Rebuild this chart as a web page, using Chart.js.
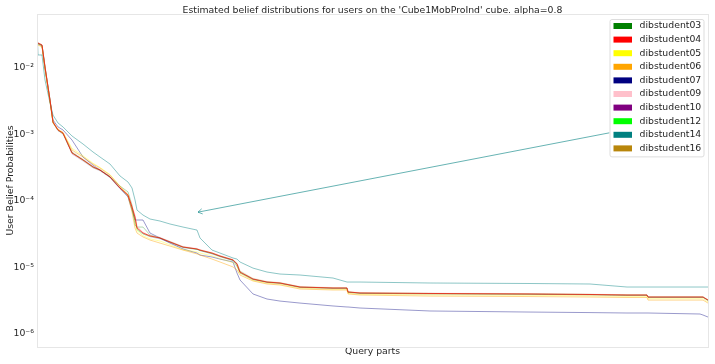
<!DOCTYPE html>
<html>
<head>
<meta charset="utf-8">
<script src="https://cdn.jsdelivr.net/npm/chart.js@4.4.1/dist/chart.umd.min.js"></script>
<style>
  html, body { margin: 0; padding: 0; background: #fff; }
  #beliefChart { display: block; }
</style>
</head>
<body>
<canvas id="beliefChart" width="715" height="364"></canvas>
<script>
// query part rank (x) shared by every user
const queryParts = [0, 1, 5, 8, 13, 16, 21, 26, 35, 46, 56, 63, 73, 83, 91, 95, 98, 100, 106, 113,
  123, 133, 146, 160, 163, 175, 183, 196, 200, 203, 216, 230, 243, 263, 296, 310, 311, 323, 393, 493,
  553, 590, 610, 611, 663, 666, 671];

const students = ['dibstudent03', 'dibstudent04', 'dibstudent05', 'dibstudent06', 'dibstudent07',
  'dibstudent09', 'dibstudent10', 'dibstudent12', 'dibstudent14', 'dibstudent16'];

const dib03 = [0.0235, 0.0235, 0.0220, 0.0102, 3.2e-3, 1.50e-3, 1.15e-3, 1.02e-3, 5.4e-4, 4.2e-4,
  3.3e-4, 2.95e-4, 2.35e-4, 1.68e-4, 1.37e-4, 8.7e-5, 4.36e-5, 4.06e-5, 4.06e-5, 3.08e-5,
  2.8e-5, 2.45e-5, 2.05e-5, 1.88e-5, 1.80e-5, 1.62e-5, 1.47e-5, 1.28e-5, 1.05e-5, 8.3e-6,
  6.6e-6, 6.0e-6, 5.8e-6, 5.05e-6, 4.88e-6, 4.88e-6, 4.25e-6, 4.10e-6, 4.03e-6, 3.97e-6,
  3.90e-6, 3.83e-6, 3.83e-6, 3.57e-6, 3.57e-6, 3.57e-6, 3.2e-6];
const dib04 = [0.0238, 0.0238, 0.0222, 0.0104, 3.30e-3, 1.54e-3, 1.17e-3, 1.05e-3, 5.27e-4, 4.14e-4,
  3.25e-4, 2.92e-4, 2.30e-4, 1.57e-4, 1.23e-4, 8.12e-5, 5.74e-5, 3.93e-5, 3.30e-5, 2.98e-5,
  2.78e-5, 2.42e-5, 2.03e-5, 1.90e-5, 1.83e-5, 1.65e-5, 1.49e-5, 1.30e-5, 1.13e-5, 8.55e-6,
  6.71e-6, 6.05e-6, 5.85e-6, 5.09e-6, 4.92e-6, 4.92e-6, 4.29e-6, 4.14e-6, 4.07e-6, 4.00e-6,
  3.93e-6, 3.86e-6, 3.86e-6, 3.60e-6, 3.60e-6, 3.60e-6, 3.24e-6];
const dib05 = [0.0226, 0.0226, 0.0212, 9.8e-3, 3.2e-3, 1.52e-3, 1.20e-3, 1.08e-3, 6.2e-4, 4.8e-4,
  3.7e-4, 3.2e-4, 2.5e-4, 1.65e-4, 1.25e-4, 8.0e-5, 5.0e-5, 3.6e-5, 3.0e-5, 2.7e-5,
  2.5e-5, 2.2e-5, 1.85e-5, 1.72e-5, 1.65e-5, 1.50e-5, 1.36e-5, 1.18e-5, 1.05e-5, 8.2e-6,
  6.4e-6, 5.8e-6, 5.6e-6, 4.9e-6, 4.7e-6, 4.7e-6, 4.1e-6, 3.95e-6, 3.88e-6, 3.82e-6,
  3.75e-6, 3.68e-6, 3.68e-6, 3.40e-6, 3.40e-6, 3.40e-6, 3.05e-6];
const dib06 = [0.0222, 0.0222, 0.0207, 9.33e-3, 3.08e-3, 1.49e-3, 1.17e-3, 1.05e-3, 5.85e-4, 4.59e-4,
  3.60e-4, 3.13e-4, 2.46e-4, 1.68e-4, 1.19e-4, 6.84e-5, 3.93e-5, 3.30e-5, 2.88e-5, 2.59e-5,
  2.33e-5, 2.10e-5, 1.83e-5, 1.60e-5, 1.54e-5, 1.34e-5, 1.21e-5, 1.02e-5, 9.17e-6, 7.71e-6,
  6.27e-6, 5.65e-6, 5.46e-6, 4.75e-6, 4.59e-6, 4.59e-6, 4.00e-6, 3.86e-6, 3.72e-6, 3.66e-6,
  3.60e-6, 3.54e-6, 3.54e-6, 3.24e-6, 3.24e-6, 3.24e-6, 2.92e-6];
const dib07 = [0.0230, 0.0230, 0.0214, 0.0100, 3.30e-3, 1.65e-3, 1.30e-3, 1.17e-3, 8.26e-4, 4.59e-4,
  3.47e-4, 2.92e-4, 2.30e-4, 1.57e-4, 1.15e-4, 7.3e-5, 5.18e-5, 5.18e-5, 5.18e-5, 3.30e-5,
  2.78e-5, 2.33e-5, 1.90e-5, 1.65e-5, 1.54e-5, 1.44e-5, 1.34e-5, 1.21e-5, 8.26e-6, 6.49e-6,
  4.00e-6, 3.36e-6, 3.13e-6, 2.92e-6, 2.64e-6, 2.55e-6, 2.55e-6, 2.46e-6, 2.22e-6, 2.14e-6,
  2.10e-6, 2.07e-6, 2.07e-6, 2.07e-6, 2.00e-6, 1.93e-6, 1.80e-6];
const dib09 = [0.0240, 0.0240, 0.0225, 0.0108, 3.4e-3, 1.58e-3, 1.22e-3, 1.10e-3, 5.6e-4, 4.3e-4,
  3.4e-4, 3.0e-4, 2.4e-4, 1.62e-4, 1.27e-4, 8.5e-5, 6.2e-5, 4.2e-5, 3.4e-5, 3.05e-5,
  2.85e-5, 2.48e-5, 2.08e-5, 1.94e-5, 1.86e-5, 1.68e-5, 1.52e-5, 1.33e-5, 1.18e-5, 9.0e-6,
  6.9e-6, 6.2e-6, 5.95e-6, 5.2e-6, 5.0e-6, 5.0e-6, 4.35e-6, 4.2e-6, 4.12e-6, 4.05e-6,
  3.98e-6, 3.9e-6, 3.9e-6, 3.65e-6, 3.65e-6, 3.65e-6, 3.3e-6];
const dib10 = [0.0232, 0.0232, 0.0218, 0.0100, 3.25e-3, 1.52e-3, 1.14e-3, 1.03e-3, 5.1e-4, 4.0e-4,
  3.15e-4, 2.85e-4, 2.25e-4, 1.52e-4, 1.18e-4, 7.8e-5, 5.5e-5, 3.8e-5, 3.2e-5, 2.9e-5,
  2.7e-5, 2.38e-5, 2.0e-5, 1.87e-5, 1.80e-5, 1.60e-5, 1.45e-5, 1.27e-5, 1.10e-5, 8.4e-6,
  6.6e-6, 5.95e-6, 5.75e-6, 5.0e-6, 4.85e-6, 4.85e-6, 4.22e-6, 4.08e-6, 4.01e-6, 3.95e-6,
  3.88e-6, 3.8e-6, 3.8e-6, 3.55e-6, 3.55e-6, 3.55e-6, 3.2e-6];
const dib12 = [0.0236, 0.0236, 0.0221, 0.0103, 3.3e-3, 1.55e-3, 1.18e-3, 1.06e-3, 5.3e-4, 4.1e-4,
  3.2e-4, 2.9e-4, 2.28e-4, 1.55e-4, 1.2e-4, 7.6e-5, 5.2e-5, 3.7e-5, 3.2e-5, 2.95e-5,
  2.75e-5, 2.4e-5, 2.0e-5, 1.88e-5, 1.82e-5, 1.64e-5, 1.48e-5, 1.29e-5, 1.15e-5, 8.8e-6,
  6.8e-6, 6.1e-6, 5.9e-6, 5.12e-6, 4.95e-6, 4.95e-6, 4.3e-6, 4.15e-6, 4.08e-6, 4.01e-6,
  3.94e-6, 3.87e-6, 3.87e-6, 3.62e-6, 3.62e-6, 3.62e-6, 3.26e-6];
const dib14 = [0.0400, 0.0157, 0.0157, 6.6e-3, 2.98e-3, 1.96e-3, 1.49e-3, 1.30e-3, 9.5e-4, 7.2e-4,
  5.46e-4, 4.59e-4, 3.60e-4, 2.38e-4, 1.93e-4, 1.57e-4, 1.04e-4, 7.3e-5, 6.15e-5, 5.36e-5,
  5.0e-5, 4.51e-5, 4.06e-5, 3.66e-5, 2.78e-5, 1.83e-5, 1.65e-5, 1.39e-5, 1.34e-5, 1.21e-5,
  9.8e-6, 8.55e-6, 7.98e-6, 7.71e-6, 6.95e-6, 6.05e-6, 6.05e-6, 6.05e-6, 5.85e-6, 5.75e-6,
  5.65e-6, 5.09e-6, 5.09e-6, 5.09e-6, 5.09e-6, 5.09e-6, 5.09e-6];
const dib16 = [0.0237, 0.0237, 0.0223, 0.0105, 3.35e-3, 1.56e-3, 1.19e-3, 1.07e-3, 5.35e-4, 4.18e-4,
  3.28e-4, 2.95e-4, 2.33e-4, 1.6e-4, 1.26e-4, 8.4e-5, 6.0e-5, 4.1e-5, 3.35e-5, 3.0e-5,
  2.8e-5, 2.44e-5, 2.05e-5, 1.91e-5, 1.84e-5, 1.66e-5, 1.5e-5, 1.31e-5, 1.16e-5, 8.6e-6,
  6.75e-6, 6.08e-6, 5.88e-6, 5.1e-6, 4.93e-6, 4.93e-6, 4.3e-6, 4.15e-6, 4.08e-6, 4.01e-6,
  3.94e-6, 3.87e-6, 3.87e-6, 3.61e-6, 3.61e-6, 3.61e-6, 3.25e-6];

const seriesValues = [dib03, dib04, dib05, dib06, dib07, dib09, dib10, dib12, dib14, dib16];

const yTickValues = [1e-6, 1e-5, 1e-4, 1e-3, 1e-2];
const yTickLabels = ['10\u207b\u2076', '10\u207b\u2075', '10\u207b\u2074', '10\u207b\u00b3', '10\u207b\u00b2'];

// annotation arrow: from the dibstudent14 legend entry to this point
const arrowUser = 8;
const arrowTarget = { part: 161, prob: 6.8e-5 };

// colours (legend full, lines faded)
const userColors = [[0, 128, 0], [255, 0, 0], [255, 255, 0], [255, 165, 0], [0, 0, 128],
  [255, 192, 203], [128, 0, 128], [0, 255, 0], [0, 128, 128], [184, 134, 11]];
const lineAlpha = [0.3, 0.7, 0.35, 0.45, 0.4, 0.4, 0.22, 0.3, 0.45, 0.22];
const drawOrder = [2, 0, 2, 1, 2, 1, 3, 2, 1, 3];
const rgba = (c, a) => 'rgba(' + c[0] + ',' + c[1] + ',' + c[2] + ',' + a + ')';

const FONT = '"DejaVu Sans", sans-serif';
const TEXT = '#262626';

const datasets = students.map((name, i) => ({
  label: name,
  data: queryParts.map((p, j) => ({ x: p, y: seriesValues[i][j] })),
  borderColor: rgba(userColors[i], lineAlpha[i]),
  borderWidth: 1,
  pointRadius: 0,
  tension: 0,
  fill: false,
  order: drawOrder[i]
}));

const overlay = {
  id: 'overlay',
  afterDraw(chart) {
    const { ctx, chartArea: a, scales } = chart;
    ctx.save();
    // frame
    ctx.strokeStyle = '#e6e6e6';
    ctx.lineWidth = 1;
    ctx.strokeRect(a.left + 0.5, a.top + 0.5, a.right - a.left, a.bottom - a.top);

    // legend
    const boxW = 94, rowH = 13.6;
    const boxL = a.right - 98.5, boxT = a.top + 5;
    const boxH = 7 + (students.length - 1) * rowH + 8;
    const rowY = i => boxT + 7 + i * rowH;

    // arrow
    const x0 = boxL, y0 = rowY(arrowUser) - 2;
    const x1 = scales.x.getPixelForValue(arrowTarget.part);
    const y1 = scales.y.getPixelForValue(arrowTarget.prob);
    const ang = Math.atan2(y0 - y1, x0 - x1);
    ctx.strokeStyle = rgba(userColors[arrowUser], 0.6);
    ctx.lineWidth = 1;
    ctx.beginPath();
    ctx.moveTo(x0, y0);
    ctx.lineTo(x1, y1);
    ctx.moveTo(x1 + 5 * Math.cos(ang + 0.55), y1 + 5 * Math.sin(ang + 0.55));
    ctx.lineTo(x1, y1);
    ctx.lineTo(x1 + 5 * Math.cos(ang - 0.55), y1 + 5 * Math.sin(ang - 0.55));
    ctx.stroke();

    ctx.beginPath();
    ctx.roundRect(boxL + 0.5, boxT + 0.5, boxW, boxH, 2);
    ctx.fillStyle = 'rgba(255,255,255,0.8)';
    ctx.fill();
    ctx.strokeStyle = '#dddddd';
    ctx.stroke();

    ctx.font = '9.3px ' + FONT;
    ctx.textBaseline = 'middle';
    ctx.textAlign = 'left';
    students.forEach((name, i) => {
      const y = rowY(i);
      ctx.fillStyle = rgba(userColors[i], 1);
      ctx.fillRect(boxL + 4, y - 3, 18.5, 6);
      ctx.fillStyle = TEXT;
      ctx.fillText(name, boxL + 30, y);
    });
    ctx.restore();
  }
};

new Chart(document.getElementById('beliefChart').getContext('2d'), {
  type: 'line',
  data: { datasets: datasets },
  options: {
    responsive: false,
    animation: false,
    devicePixelRatio: 1,
    layout: { padding: { left: 0, right: 7, top: 0, bottom: 0 } },
    plugins: {
      legend: { display: false },
      tooltip: { enabled: false },
      title: {
        display: true,
        fullSize: false,
        text: "Estimated belief distributions for users on the 'Cube1MobProInd' cube. alpha=0.8",
        color: TEXT,
        font: { family: FONT, size: 9.3, weight: 'normal', lineHeight: 1 },
        padding: { top: 6, bottom: -1.3 }
      }
    },
    scales: {
      x: {
        type: 'linear',
        min: 0,
        max: 671,
        grid: { display: false, drawTicks: false },
        border: { display: false },
        ticks: { display: false },
        title: {
          display: true,
          text: 'Query parts',
          color: TEXT,
          font: { family: FONT, size: 9.3 },
          padding: { top: 0, bottom: 6.4 }
        },
        afterFit(scale) { scale.height = 17; }
      },
      y: {
        type: 'logarithmic',
        min: 6.38e-7,
        max: 0.0649,
        grid: { display: false, drawTicks: false },
        border: { display: false },
        ticks: {
          padding: 3,
          color: TEXT,
          font: { family: FONT, size: 9.3 },
          callback: (v) => {
            const k = yTickValues.findIndex(t => Math.abs(t - v) / t < 1e-6);
            return k >= 0 ? yTickLabels[k] : '';
          }
        },
        afterBuildTicks(scale) {
          scale.ticks = yTickValues.map(v => ({ value: v }));
        },
        title: {
          display: true,
          text: 'User Belief Probabilities',
          color: TEXT,
          font: { family: FONT, size: 9.3 },
          padding: { top: 5, bottom: 0 }
        },
        afterFit(scale) { scale.width = 37; }
      }
    }
  },
  plugins: [overlay]
});
</script>
</body>
</html>
